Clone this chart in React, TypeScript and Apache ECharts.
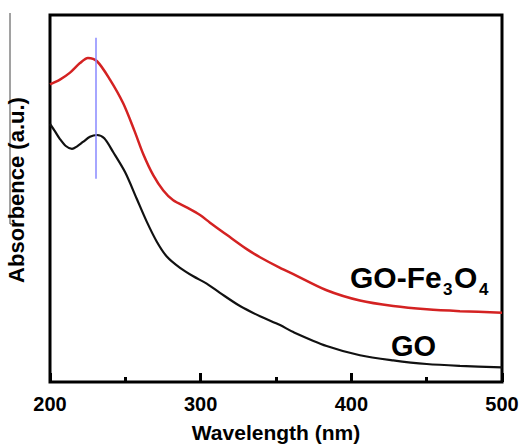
import React, { useEffect, useRef } from "react";
import * as echarts from "echarts";

const xTicks = [200, 300, 400, 500];

const goFeWavelength = [200, 206.6, 213.3, 219.9, 225.2, 231.2, 239.8, 248.5, 256, 262, 268.6, 275.2, 281.8, 290.7, 299.6, 306.2, 317.3, 330.6, 339.4, 352.7, 361.5, 383.6, 405.7, 427.8, 450, 472.1, 500];
const goFeAbsorbance = [81.1, 82.4, 84.3, 86.9, 88.3, 87.4, 82.4, 76, 68.5, 62, 56.3, 52.2, 49.5, 47.6, 45.5, 43.4, 40.1, 36.2, 34.0, 31.1, 29.4, 25.0, 22.2, 20.7, 19.8, 19.3, 18.9];

const goWavelength = [200, 203, 206.6, 210.5, 214.6, 218, 221.9, 226.5, 231.2, 236, 242, 249.8, 257.5, 264.2, 270.8, 277.5, 286.3, 295.1, 304, 312.8, 326.1, 339.4, 352.7, 361.5, 383.6, 405.7, 427.8, 450, 472.1, 500];
const goAbsorbance = [70.3, 68.5, 66.2, 64.3, 63.5, 64.2, 65.4, 66.8, 67.3, 66.4, 62.6, 57.2, 50.0, 43.7, 38.3, 34.2, 31.1, 28.8, 26.8, 24.3, 20.7, 17.9, 15.5, 13.6, 9.8, 7.3, 5.9, 4.9, 4.4, 4.0];

const markerWavelength = 230.5;
const markerRange = [93.8, 55.4];

const FONT = "'Liberation Sans', Arial, sans-serif";

export default function App() {
  const ref = useRef<HTMLDivElement>(null);
  useEffect(() => {
    if (!ref.current) return;
    const chart = echarts.init(ref.current, null, { renderer: "svg" });
    const red = goFeWavelength.map((w, i) => [w, goFeAbsorbance[i]]);
    const black = goWavelength.map((w, i) => [w, goAbsorbance[i]]);
    chart.setOption({
      animation: false,
      backgroundColor: "#fff",
      grid: {
        left: 50,
        right: 21,
        top: 15,
        bottom: 63,
        show: true,
        borderColor: "#000",
        borderWidth: 3,
      },
      xAxis: {
        type: "value",
        min: xTicks[0],
        max: xTicks[xTicks.length - 1],
        interval: 100,
        name: "Wavelength (nm)",
        nameLocation: "middle",
        nameGap: 40,
        nameTextStyle: { fontFamily: FONT, fontWeight: "bold", fontSize: 21, color: "#000" },
        axisLine: { show: false },
        axisTick: { show: true, inside: true, length: 9, lineStyle: { color: "#000", width: 3 } },
        minorTick: { show: true, splitNumber: 2, length: 5, lineStyle: { color: "#000", width: 3 } },
        axisLabel: { fontFamily: FONT, fontWeight: "bold", fontSize: 20, color: "#000", margin: 12 },
        splitLine: { show: false },
      },
      yAxis: {
        type: "value",
        min: 0,
        max: 100,
        axisLine: { show: false },
        axisTick: { show: false },
        axisLabel: { show: false },
        splitLine: { show: false },
      },
      series: [
        {
          name: "GO-Fe3O4",
          type: "line",
          data: red,
          smooth: 0.3,
          showSymbol: false,
          lineStyle: { color: "#d42222", width: 2.5 },
          markLine: {
            silent: true,
            symbol: "none",
            label: { show: false },
            lineStyle: { color: "#8888ff", width: 1.5, type: "solid" },
            data: [[{ coord: [markerWavelength, markerRange[0]] }, { coord: [markerWavelength, markerRange[1]] }]],
          },
        },
        {
          name: "GO",
          type: "line",
          data: black,
          smooth: 0.3,
          showSymbol: false,
          lineStyle: { color: "#111", width: 2.2 },
        },
      ],
      graphic: [
        { type: "line", shape: { x1: 10, y1: 13, x2: 10, y2: 224 }, style: { stroke: "#444", lineWidth: 1 } },
        { type: "line", shape: { x1: 10, y1: 224, x2: 24, y2: 224 }, style: { stroke: "#444", lineWidth: 1 } },
        {
          type: "text",
          x: 16,
          y: 190,
          rotation: Math.PI / 2,
          style: { text: "Absorbence (a.u.)", font: `bold 22px ${FONT}`, fill: "#000", textAlign: "center", textVerticalAlign: "middle" },
        },
        { type: "text", x: 350, y: 277, style: { text: "GO-Fe", font: `bold 30px ${FONT}`, fill: "#000", textVerticalAlign: "middle" } },
        { type: "text", x: 443, y: 289, style: { text: "3", font: `bold 17px ${FONT}`, fill: "#000", textVerticalAlign: "middle" } },
        { type: "text", x: 454, y: 277, style: { text: "O", font: `bold 30px ${FONT}`, fill: "#000", textVerticalAlign: "middle" } },
        { type: "text", x: 479, y: 289, style: { text: "4", font: `bold 17px ${FONT}`, fill: "#000", textVerticalAlign: "middle" } },
        { type: "text", x: 391, y: 346, style: { text: "GO", font: `bold 29px ${FONT}`, fill: "#000", textVerticalAlign: "middle" } },
      ],
    });
    return () => chart.dispose();
  }, []);
  return <div ref={ref} style={{ position: "absolute", left: 0, top: 0, width: 523, height: 448 }} />;
}
